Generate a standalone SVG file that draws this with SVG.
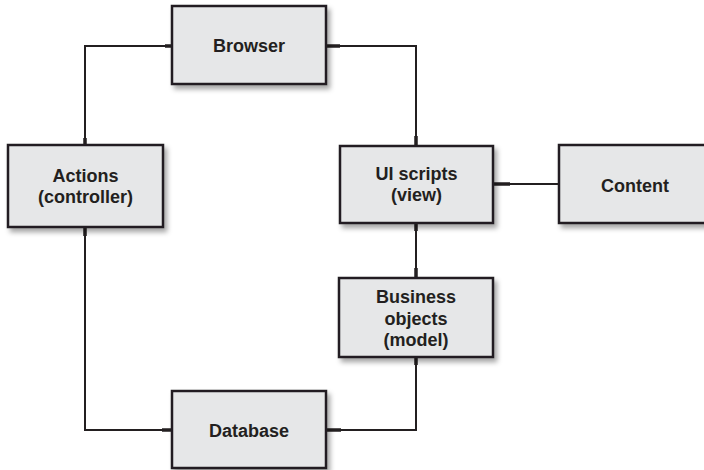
<svg xmlns="http://www.w3.org/2000/svg" width="704" height="470" viewBox="0 0 704 470">
<defs>
<filter id="sh" x="-10%" y="-10%" width="130%" height="140%">
<feDropShadow dx="3" dy="4" stdDeviation="2.5" flood-color="#000" flood-opacity="0.35"/>
</filter>
</defs>
<style>
.box{fill:#e6e7e8;stroke:#231f20;stroke-width:2.5;filter:url(#sh)}
.lbl{font-family:"Liberation Sans",Arial,sans-serif;font-weight:bold;font-size:18px;fill:#231f20;text-anchor:middle}
.ln{fill:none;stroke:#231f20;stroke-width:2}
.stub{fill:none;stroke:#231f20;stroke-width:3.5}
</style>
<rect width="704" height="470" fill="#fff"/>
<g id="connectors">
<path class="ln" d="M172,46 H85 V145"/>
<path class="ln" d="M326,46 H416 V146"/>
<path class="ln" d="M416,223 V278"/>
<path class="ln" d="M493,184 H559"/>
<path class="ln" d="M85,227 V430 H172"/>
<path class="ln" d="M416,357 V430 H326"/>
<path class="stub" d="M165,46 H172 M326,46 H340 M85,138 V145 M416,136 V146 M416,223 V231 M416,268 V278 M493,184 H510 M85,227 V236 M162,430 H172 M326,430 H341 M416,357 V365"/>
</g>
<g id="browser">
<rect class="box" x="172" y="6" width="154" height="78"/>
<text class="lbl" x="249" y="52">Browser</text>
</g>
<g id="actions">
<rect class="box" x="8" y="145" width="155" height="82"/>
<text class="lbl" x="85.5" y="182">Actions</text>
<text class="lbl" x="85.5" y="203">(controller)</text>
</g>
<g id="ui-scripts">
<rect class="box" x="340" y="146" width="153" height="77"/>
<text class="lbl" x="416.5" y="180">UI scripts</text>
<text class="lbl" x="416.5" y="201">(view)</text>
</g>
<g id="content">
<rect class="box" x="559" y="145" width="152" height="78"/>
<text class="lbl" x="635" y="192">Content</text>
</g>
<g id="business-objects">
<rect class="box" x="339" y="278" width="154" height="79"/>
<text class="lbl" x="416" y="303">Business</text>
<text class="lbl" x="416" y="324.5">objects</text>
<text class="lbl" x="416" y="346">(model)</text>
</g>
<g id="database">
<rect class="box" x="172" y="391" width="154" height="77"/>
<text class="lbl" x="249" y="437">Database</text>
</g>
</svg>
